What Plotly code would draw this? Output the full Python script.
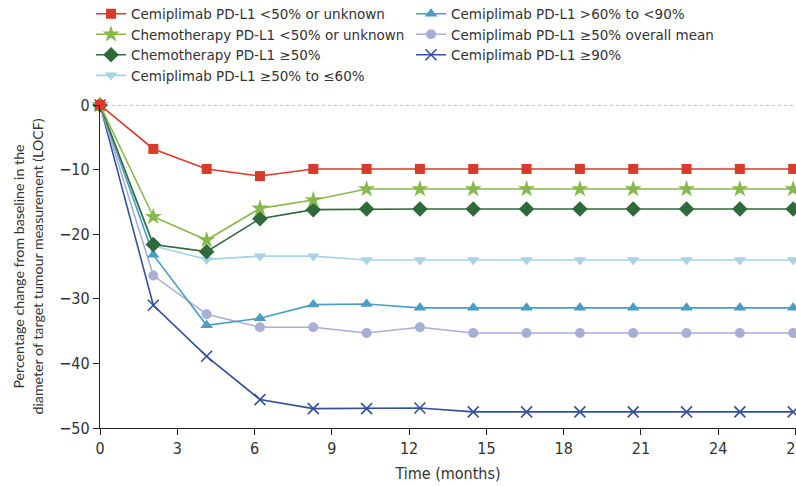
import plotly.graph_objects as go

months = [0, 2.07, 4.14, 6.21, 8.28, 10.35, 12.42, 14.49, 16.56, 18.63, 20.7, 22.77, 24.84, 26.91]

cemi_lt50 = [0, -6.8, -9.9, -11.0, -9.9, -9.9, -9.9, -9.9, -9.9, -9.9, -9.9, -9.9, -9.9, -9.9]
chemo_lt50 = [0, -17.3, -20.9, -16.0, -14.7, -13.0, -13.0, -13.0, -13.0, -13.0, -13.0, -13.0, -13.0, -13.0]
chemo_ge50 = [0, -21.6, -22.7, -17.6, -16.2, -16.1, -16.1, -16.1, -16.1, -16.1, -16.1, -16.1, -16.1, -16.1]
cemi_50_60 = [0, -21.8, -23.9, -23.4, -23.4, -24.0, -24.0, -24.0, -24.0, -24.0, -24.0, -24.0, -24.0, -24.0]
cemi_60_90 = [0, -23.2, -34.1, -33.0, -30.9, -30.8, -31.4, -31.4, -31.4, -31.4, -31.4, -31.4, -31.4, -31.4]
cemi_ge50_mean = [0, -26.4, -32.4, -34.4, -34.4, -35.3, -34.4, -35.3, -35.3, -35.3, -35.3, -35.3, -35.3, -35.3]
cemi_ge90 = [0, -31.0, -38.9, -45.6, -47.0, -47.0, -46.9, -47.5, -47.5, -47.5, -47.5, -47.5, -47.5, -47.5]

x_ticks = [0, 3, 6, 9, 12, 15, 18, 21, 24, 27]
y_ticks = [0, -10, -20, -30, -40, -50]

# legend order (row-major, two columns)
series = [
    ("Cemiplimab PD-L1 <50% or unknown", cemi_lt50, "#d93a2b", "square", 10),
    ("Cemiplimab PD-L1 >60% to <90%", cemi_60_90, "#4a9ec2", "triangle-up", 11),
    ("Chemotherapy PD-L1 <50% or unknown", chemo_lt50, "#86b84b", "star", 13),
    ("Cemiplimab PD-L1 ≥50% overall mean", cemi_ge50_mean, "#a9aed6", "circle", 10),
    ("Chemotherapy PD-L1 ≥50%", chemo_ge50, "#2f6a3b", "diamond", 12),
    ("Cemiplimab PD-L1 ≥90%", cemi_ge90, "#33509a", "x-thin", 11),
    ("Cemiplimab PD-L1 ≥50% to ≤60%", cemi_50_60, "#a8d3e6", "triangle-down", 11),
]

draw_order = [5, 3, 1, 6, 4, 2, 0]

TICK_FONT = "Liberation Sans Narrow, DejaVu Sans Condensed, sans-serif"
LEG_FONT = "DejaVu Sans, sans-serif"

fig = go.Figure()

fig.add_trace(go.Scatter(
    x=[0, 27.5], y=[0, 0], mode="lines",
    line=dict(color="#8a8a8a", width=1.2, dash="3px,3px"),
    showlegend=False, hoverinfo="skip",
))

traces = []
for i, (name, vals, color, sym, size) in enumerate(series):
    marker = dict(symbol=sym, size=size, color=color)
    if sym == "x-thin":
        marker["line"] = dict(color=color, width=1.6)
    traces.append(go.Scatter(
        x=months, y=vals, name=name, mode="lines+markers",
        line=dict(color=color, width=1.6),
        marker=marker, cliponaxis=False, legendrank=i + 1,
    ))
for idx in draw_order:
    fig.add_trace(traces[idx])

fig.update_layout(
    width=796, height=486,
    margin=dict(l=100, r=0, t=105, b=58, autoexpand=False),
    paper_bgcolor="white", plot_bgcolor="white",
    font=dict(family=LEG_FONT, size=13.5, color="#333333"),
    legend=dict(
        orientation="h", x=-0.0129, xanchor="left", y=1.33, yanchor="top",
        entrywidth=275, entrywidthmode="pixels",
        itemwidth=30,
        font=dict(family=LEG_FONT, size=13.5, color="#333333"),
        traceorder="normal", bgcolor="rgba(0,0,0,0)",
    ),
    xaxis=dict(
        range=[0, 27.02], tickvals=x_ticks, ticktext=[str(v) for v in x_ticks],
        ticklabeloverflow="allow", automargin=False,
        showgrid=False, zeroline=False, showline=True, linecolor="#222222", linewidth=1.3,
        ticks="outside", ticklen=6, tickcolor="#222222", tickwidth=1.3,
        tickfont=dict(family=TICK_FONT, size=16, color="#333333"),
        title=dict(text="Time (months)", standoff=10,
                   font=dict(family=TICK_FONT, size=16, color="#333333")),
    ),
    yaxis=dict(
        range=[-50, 0], tickvals=y_ticks, ticktext=[("−" if v < 0 else "") + str(abs(v)) for v in y_ticks],
        automargin=False,
        showgrid=False, zeroline=False, showline=True, linecolor="#222222", linewidth=1.3,
        ticks="outside", ticklen=6, tickcolor="#222222", tickwidth=1.3,
        tickfont=dict(family=TICK_FONT, size=16, color="#333333"),
        title=dict(text="Percentage change from baseline in the<br>diameter of target tumour measurement (LOCF)",
                   standoff=12,
                   font=dict(family="Lato, Noto Sans, sans-serif", size=14.2, color="#333333")),
    ),
)

fig.write_html("out.html")
